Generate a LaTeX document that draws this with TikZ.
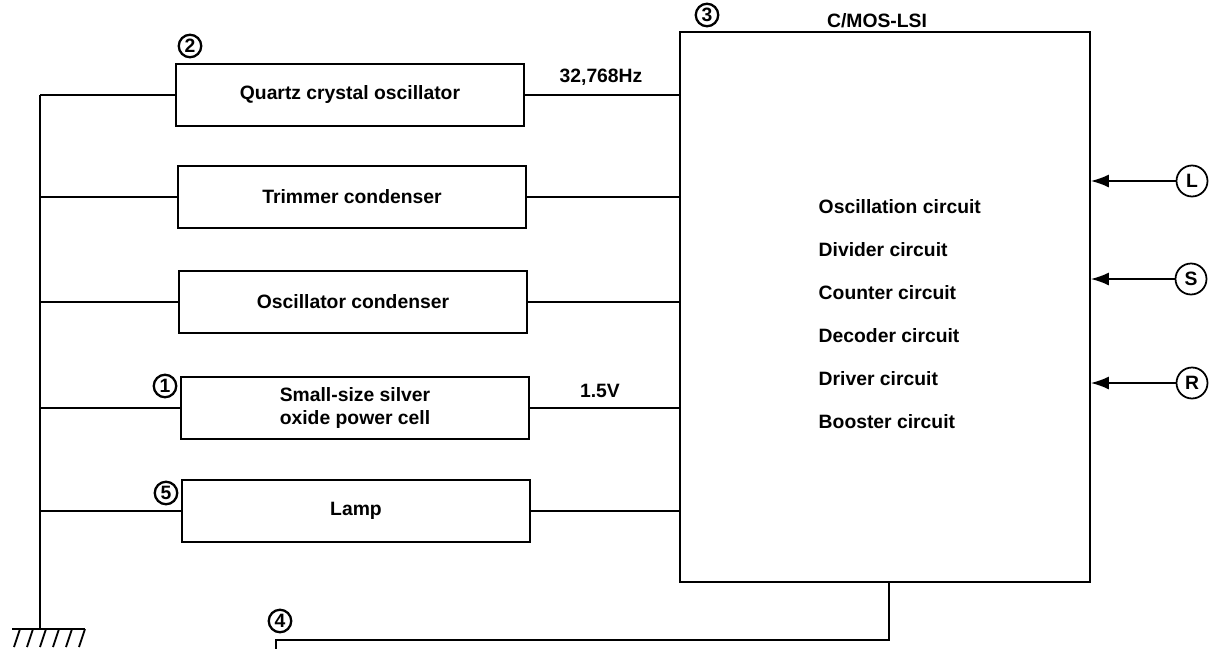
\documentclass[tikz,border=0pt]{standalone}
\usepackage{fontspec}
\setmainfont{Liberation Sans}
\usetikzlibrary{arrows.meta}
\usetikzlibrary{positioning}

\begin{document}
\begin{tikzpicture}[x=0.02cm,y=-0.02cm,
  line width=1pt,
  every node/.style={font=\fontsize{11}{13}\selectfont\bfseries},
  box/.style={draw,minimum width=6.96cm,minimum height=1.24cm,align=center},
  num/.style={circle,draw,line width=1.3pt,inner sep=0pt,minimum size=0.45cm,
    font=\fontsize{11}{11}\selectfont\bfseries},
  pin/.style={circle,draw,inner sep=0pt,minimum size=0.62cm},
  sig/.style={-{Latex[length=3.6mm,width=2.6mm]}}]
\useasboundingbox (0,0) rectangle (1231,649);

% parts on the left
\node[box] (quartz) at (350,95) {Quartz crystal oscillator};
\node[box] (trim) at (352,197) {Trimmer condenser};
\node[box] (osc) at (353,302) {Oscillator condenser};
\node[box] (cell) at (355,408) {Small-size silver\\oxide power cell};
\node[box] (lamp) at (356,511) {Lamp};

% LSI
\node[draw,minimum width=8.2cm,minimum height=11cm] (lsi) at (885,307) {};
\node (lsiname) at (877,21) {C/MOS-LSI};
\foreach \t [count=\i from 0] in {Oscillation circuit,Divider circuit,Counter circuit,
    Decoder circuit,Driver circuit,Booster circuit}
  \node[anchor=west] (f\i) at (812,207+43*\i) {\t};

% numbers
\node[num] (n1) at (165,386) {1};
\node[num] (n2) at (190,46) {2};
\node[num] (n3) at (707,15) {3};
\node[num] (n4) at (280,621) {4};
\node[num] (n5) at (166,493) {5};

% ground rail
\coordinate (gtop) at (40,95);
\coordinate (gbot) at (40,629);
\draw (gtop) -- (gbot);
\draw (12,629) -- (85,629);
\foreach \k in {0,...,5}
  \draw (20+13*\k,629) -- ++(-6,18);
\foreach \b in {quartz,trim,osc,cell,lamp}{
  \draw (\b.west) -- (\b.west -| gbot);
  \draw (\b.east) -- (\b.east -| lsi.west);
}
\node (freq) at (601,77) {32,768Hz};
\node (volt) at (600,391) {1.5V};

% output line
\coordinate (o1) at (889,640);
\coordinate (o2) at (276,640);
\coordinate (o3) at (276,649);
\draw (o1 |- lsi.south) -- (o1) -- (o2) -- (o3);

% switches
\node[pin] (pL) at (1192,181) {L};
\node[pin] (pS) at (1191,279) {S};
\node[pin] (pR) at (1192,383) {R};
\foreach \p in {pL,pS,pR}
  \draw[sig] (\p) -- (\p -| lsi.east);
\end{tikzpicture}
\end{document}
